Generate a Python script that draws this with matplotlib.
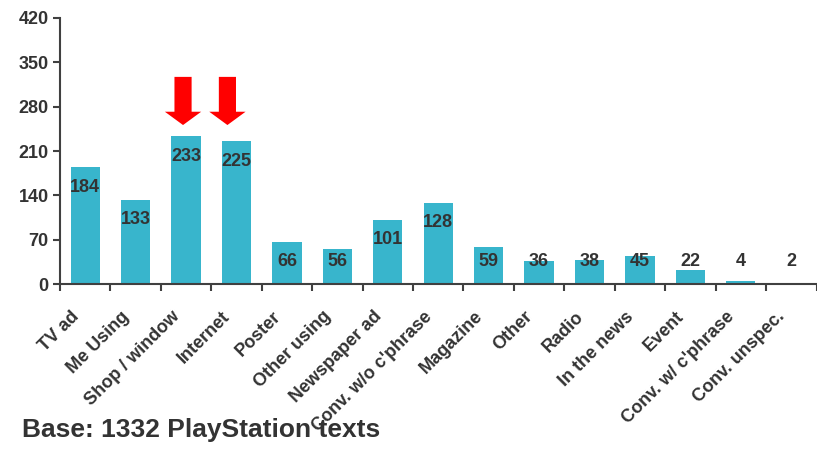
import numpy as np
import matplotlib.pyplot as plt
from matplotlib.patches import FancyArrow
from matplotlib.transforms import ScaledTranslation

plt.rcParams['font.family'] = ['Liberation Sans', 'DejaVu Sans']
plt.rcParams['font.weight'] = 'bold'

categories = ['TV ad', 'Me Using', 'Shop / window', 'Internet', 'Poster',
              'Other using', 'Newspaper ad', "Conv. w/o c'phrase", 'Magazine',
              'Other', 'Radio', 'In the news', 'Event', "Conv. w/ c'phrase",
              'Conv. unspec.']
values = [184, 133, 233, 225, 66, 56, 101, 128, 59, 36, 38, 45, 22, 4, 2]
highlighted = ['Shop / window', 'Internet']
yticks = [0, 70, 140, 210, 280, 350, 420]

text_col = '#333333'
bar_col = '#38b5cc'

fig = plt.figure(figsize=(8.17, 4.54), dpi=100)
ax = fig.add_axes([0.0734, 0.3744, 0.926, 0.586])

x = np.arange(len(categories))
ax.bar(x, values, width=0.58, color=bar_col)

# value labels sit a bit below the top of the bar, but never too low
for xi, v in zip(x, values):
    ypos = max(v - 31, 35)
    ax.text(xi, ypos, str(v), ha='center', va='center', fontsize=13,
            fontweight='bold', color=text_col)

# red arrows pointing at the highlighted bars (hand placed, slightly left)
arrow_shift = [0.06, 0.18]
for name, sh in zip(highlighted, arrow_shift):
    i = categories.index(name)
    ax.add_patch(FancyArrow(x[i] - sh, 327, 0, -76, width=0.34,
                            head_width=0.72, head_length=21,
                            length_includes_head=True, color='#ff0000',
                            lw=0))

ax.set_xlim(-0.5, len(categories) - 0.5)
ax.set_ylim(0, 420)
ax.set_yticks(yticks)
ax.set_yticklabels([str(t) for t in yticks], fontsize=13, color=text_col)

# category labels, rotated, hanging a bit left of each bar
ax.set_xticks(x)
ax.set_xticklabels([])
ax.tick_params(axis='x', which='major', length=0)
off = ax.get_xaxis_transform() + ScaledTranslation(-0.15, -0.24, fig.dpi_scale_trans)
for xi, name in zip(x, categories):
    ax.text(xi, 0, name, transform=off, rotation=45, ha='right', va='top',
            rotation_mode='anchor', fontsize=13, fontweight='bold',
            color=text_col)

ax.set_xticks(np.arange(len(categories) + 1) - 0.5, minor=True)
ax.tick_params(axis='x', which='minor', length=5, width=1.5, color='#404040')
ax.tick_params(axis='y', length=5, width=1.5, color='#404040', pad=3)

for s in ['top', 'right']:
    ax.spines[s].set_visible(False)
for s in ['left', 'bottom']:
    ax.spines[s].set_color('#404040')
    ax.spines[s].set_linewidth(1.5)

fig.text(0.027, 0.037, 'Base: 1332 PlayStation texts', fontsize=19,
         fontweight='bold', color=text_col)

fig.savefig('out.png', dpi=100)
